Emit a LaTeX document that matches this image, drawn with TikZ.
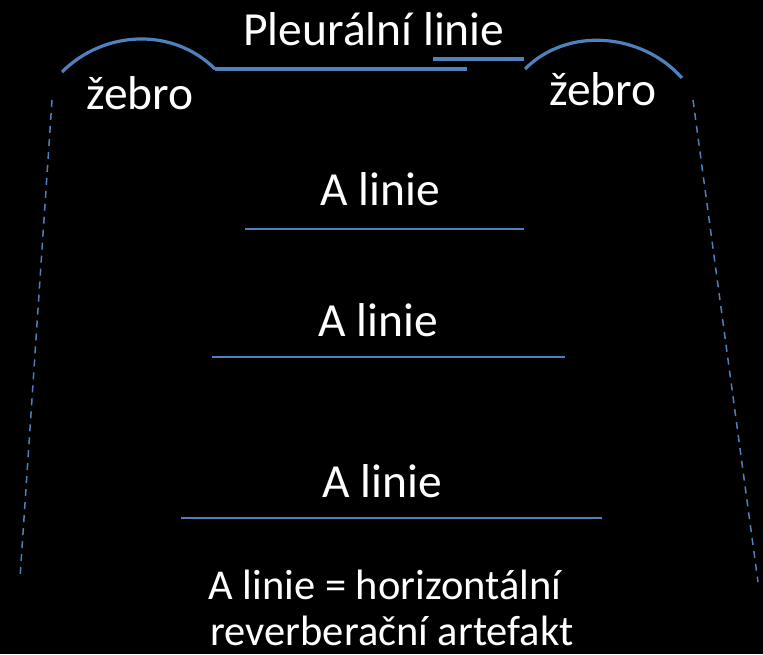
\documentclass[tikz,border=0pt]{standalone}
\usepackage{fontspec}
\setmainfont{Carlito}
\definecolor{lineblue}{HTML}{4F81BD}
\begin{document}
\begin{tikzpicture}[x=1pt,y=-1pt,
  lbl/.style={text=white,inner sep=0pt,anchor=base,font=\fontsize{47.5}{55}\selectfont},
  note/.style={text=white,inner sep=0pt,anchor=base,font=\fontsize{42.5}{46}\selectfont},
  rib/.style={draw=lineblue,line width=3.2pt},
  pleura/.style={draw=lineblue,line width=3.2pt},
  aline/.style={draw=lineblue,line width=2pt},
  shadow/.style={draw=lineblue,line width=1.5pt,dash pattern=on 7pt off 6pt}]
\fill[black] (0,0) rectangle (763,654);
\useasboundingbox (0,0) rectangle (763,654);
% coordinates
\coordinate (la1) at (62,72);
\coordinate (la2) at (215,69);
\coordinate (ra1) at (525,69);
\coordinate (ra2) at (682,78);
\coordinate (p1e) at (467,69);
\coordinate (p2s) at (433,59);
\coordinate (p2e) at (524,59);
\coordinate (ld1) at (52,100);
\coordinate (ld2) at (20,578);
\coordinate (rd1) at (693,100);
\coordinate (rd2) at (758,582);
\coordinate (a1s) at (245,229);
\coordinate (a1e) at (524,229);
\coordinate (a2s) at (212,357);
\coordinate (a2e) at (565,357);
\coordinate (a3s) at (181,518);
\coordinate (a3e) at (602,518);
% ribs
\draw[rib] (la1) .. controls (104,30) and (173,27) .. (la2);
\draw[rib] (ra1) .. controls (568,26) and (642,33) .. (ra2);
% pleural line
\draw[pleura] (la2) -- (p1e);
\draw[pleura] (p2s) -- (p2e);
% acoustic shadows
\draw[shadow] (ld1) -- (ld2);
\draw[shadow] (rd1) -- (rd2);
% A lines
\draw[aline] (a1s) -- (a1e);
\draw[aline] (a2s) -- (a2e);
\draw[aline] (a3s) -- (a3e);
% texts
\node[lbl] (pl) at (374,45) {Pleurální linie};
\node[lbl] (zl) at (140,109) {žebro};
\node[lbl] (zr) at (603,105) {žebro};
\node[lbl] (t1) at (380,205) {A linie};
\node[lbl] (t2) at (378,336) {A linie};
\node[lbl] (t3) at (382,497) {A linie};
\node[note] (n1) at (385,599) {A linie = horizontální};
\node[note] (n2) at (392,645) {reverberační artefakt};
\end{tikzpicture}
\end{document}
